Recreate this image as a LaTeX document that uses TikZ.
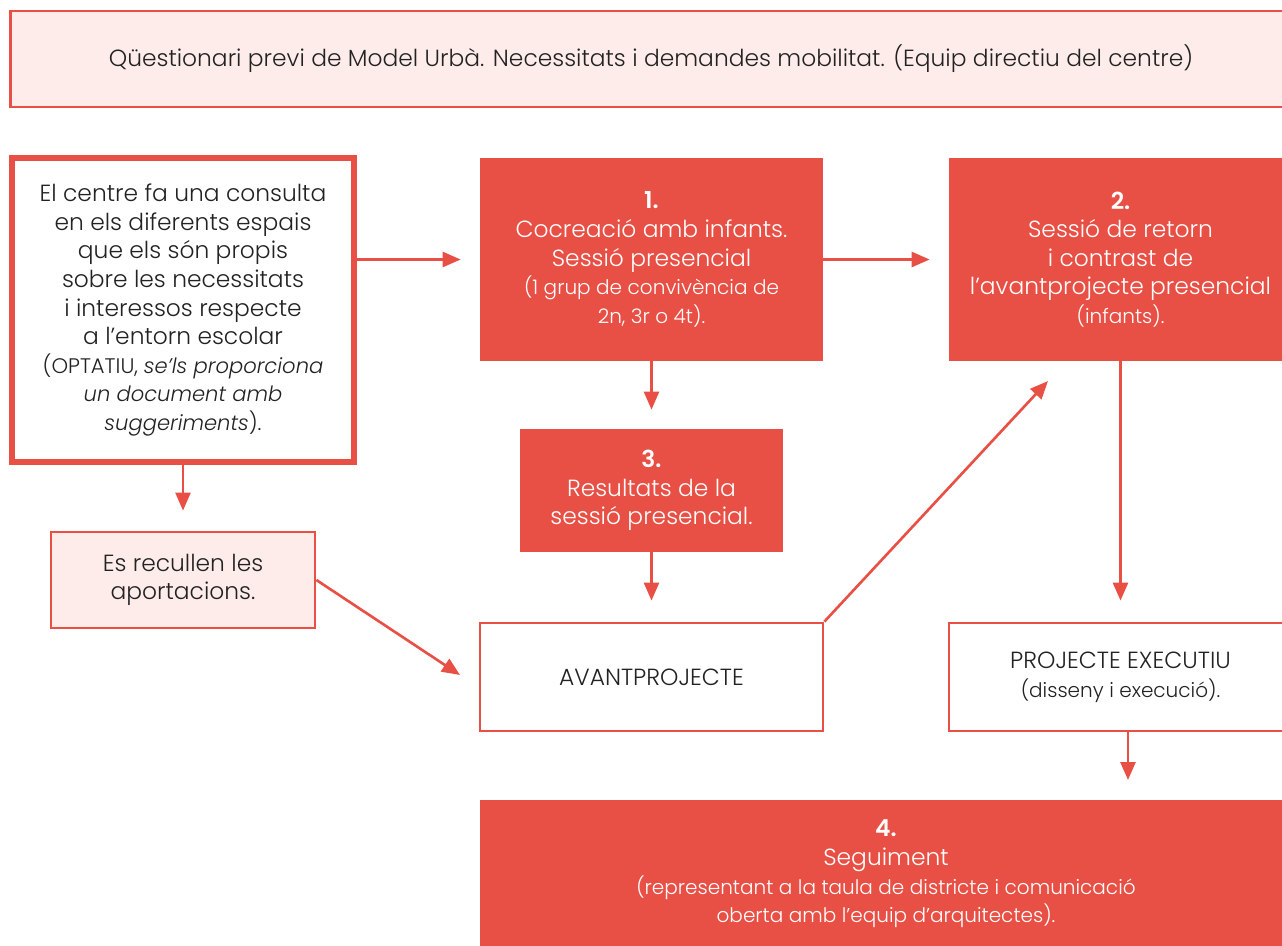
\documentclass[tikz,border=0pt]{standalone}
\usepackage{fontspec}
\setmainfont{Poppins}[UprightFont=* Light, BoldFont=* SemiBold, ItalicFont=* Light Italic]
\usetikzlibrary{arrows.meta}
\definecolor{vermell}{HTML}{E95045}
\definecolor{rosa}{HTML}{FDECEA}
\definecolor{tinta}{HTML}{222222}
\newcommand{\petit}{\fontsize{11.4}{14.6}\selectfont}
\newcommand{\nota}{\fontsize{12}{15.6}\selectfont}

\begin{document}
\begin{tikzpicture}[
        x=0.02cm, y=-0.02cm,
        every node/.style={align=center, inner sep=0pt, text=tinta, font=\fontsize{13.3}{16.3}\selectfont},
        caixa/.style={draw=vermell, line width=1.6pt, minimum width=6.86cm, minimum height=2.16cm},
        ple/.style={fill=vermell, text=white, minimum width=6.86cm, minimum height=4.06cm},
        fletxa/.style={draw=vermell, line width=1.5pt, -{Triangle[length=0.36cm, width=0.3cm]}}
    ]
        \useasboundingbox (0,0) rectangle (1282,946);

        \node[caixa, fill=rosa, minimum width=25.64cm, minimum height=1.92cm] (questionari) at (651,59) {Qüestionari previ de Model Urbà. Necessitats i demandes mobilitat. (Equip directiu del centre)};
        \node[caixa, fill=white, line width=3.4pt, minimum width=6.85cm, minimum height=6.08cm] (consulta) at (183,310) {El centre fa una consulta\\en els diferents espais\\que els són propis\\sobre les necessitats\\i interessos respecte\\a l’entorn escolar\\\nota (OPTATIU, \textit{se’ls proporciona}\\\nota\textit{un document amb}\\\nota\textit{suggeriments}).};
        \node[ple] (cocreacio) at (651.5,259.5) {\textbf{1.}\\Cocreació amb infants.\\Sessió presencial\\\petit (1 grup de convivència de\\\petit 2n, 3r o 4t).};
        \node[ple] (retorn) at (1120.5,259.5) {\textbf{2.}\\Sessió de retorn\\i contrast de\\l’avantprojecte presencial\\\petit (infants).};
        \node[ple, minimum width=5.26cm, minimum height=2.46cm] (resultats) at (651.5,490.5) {\textbf{3.}\\Resultats de la\\sessió presencial.};
        \node[caixa, fill=rosa, minimum width=5.28cm, minimum height=1.92cm] (recullen) at (183,580) {Es recullen les\\aportacions.};
        \node[caixa] (avantprojecte) at (651.5,677) {AVANTPROJECTE};
        \node[caixa] (executiu) at (1120.5,677) {PROJECTE EXECUTIU\\\petit (disseny i execució).};
        \node[ple, minimum width=16.24cm, minimum height=2.96cm] (seguiment) at (886,874) {\textbf{4.}\\Seguiment\\\petit (representant a la taula de districte i comunicació\\\petit oberta amb l’equip d’arquitectes).};

        % free ends of the slanted arrows
        \coordinate (avant-in) at (460,675);
        \coordinate (retorn-in) at (1048,381);
        \coordinate (seguiment-in) at (1128,780);

        \draw[fletxa, shorten >=0.38cm] (consulta.east |- cocreacio.west) -- (cocreacio.west);
        \draw[fletxa, shorten >=0.38cm] (cocreacio.east) -- (retorn.west);
        \draw[fletxa, shorten >=0.38cm] (cocreacio.south) -- (resultats.north);
        \draw[fletxa, shorten >=0.42cm] (resultats.south) -- (avantprojecte.north);
        \draw[fletxa, shorten >=0.4cm] (consulta.south) -- (recullen.north);
        \draw[fletxa] (recullen.east) -- (avant-in);
        \draw[fletxa] (avantprojecte.north east) -- (retorn-in);
        \draw[fletxa, shorten >=0.42cm] (retorn.south) -- (executiu.north);
        \draw[fletxa] (executiu.south -| seguiment-in) -- (seguiment-in);
    \end{tikzpicture}
\end{document}
